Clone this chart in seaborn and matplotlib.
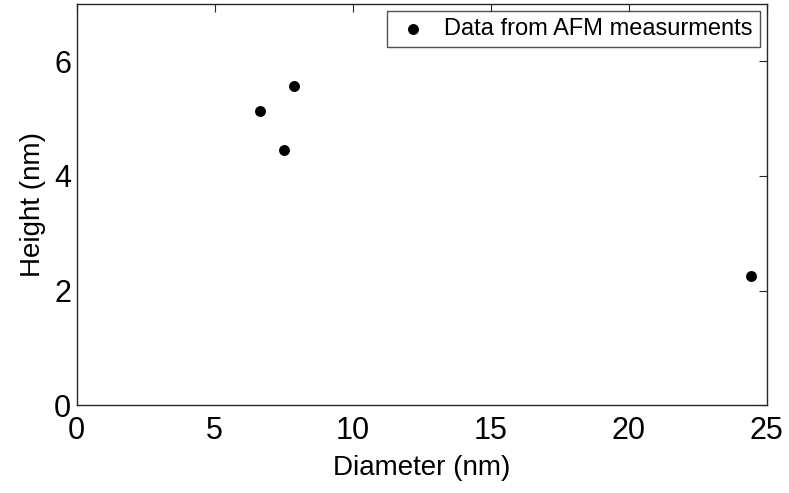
import seaborn as sns
import matplotlib.pyplot as plt
import pandas as pd

# Data
diameter_nm = [6.65, 7.50, 7.86, 24.44]
height_nm = [5.13, 4.45, 5.56, 2.25]
series_label = "Data from AFM measurments"

df = pd.DataFrame({"Diameter (nm)": diameter_nm, "Height (nm)": height_nm})

sns.set_style("white")
plt.rcParams['font.family'] = ['Liberation Sans', 'DejaVu Sans']

fig = plt.figure(figsize=(7.89, 4.93), dpi=100)
ax = fig.add_axes([0.0972, 0.178, 0.8745, 0.8145])

sns.scatterplot(data=df, x="Diameter (nm)", y="Height (nm)", ax=ax,
                color="black", s=62, edgecolor="black", linewidth=0,
                label=series_label)

ax.set_xlim(0, 25)
ax.set_ylim(0, 7)
ax.set_xticks([0, 5, 10, 15, 20, 25])
ax.set_yticks([0, 2, 4, 6])

ax.tick_params(direction="in", top=True, right=True, length=6, width=0.8,
               labelsize=22, color="#262626", labelcolor="black")
ax.tick_params(axis="x", pad=8)
ax.tick_params(axis="y", pad=4)
for sp in ax.spines.values():
    sp.set_color("#262626")
    sp.set_linewidth(1.0)

ax.set_xlabel("Diameter (nm)", fontsize=20, labelpad=6, color="black")
ax.set_ylabel("Height (nm)", fontsize=20, labelpad=6, color="black")

leg = ax.legend(loc="upper right", fontsize=17, frameon=True, fancybox=False,
                borderpad=0.3, handletextpad=0.5, borderaxespad=0.3,
                handlelength=1.6)
leg.get_frame().set_edgecolor("#262626")
leg.get_frame().set_linewidth(1.0)
for t in leg.get_texts():
    t.set_color("black")

plt.savefig("out.png", dpi=100)
